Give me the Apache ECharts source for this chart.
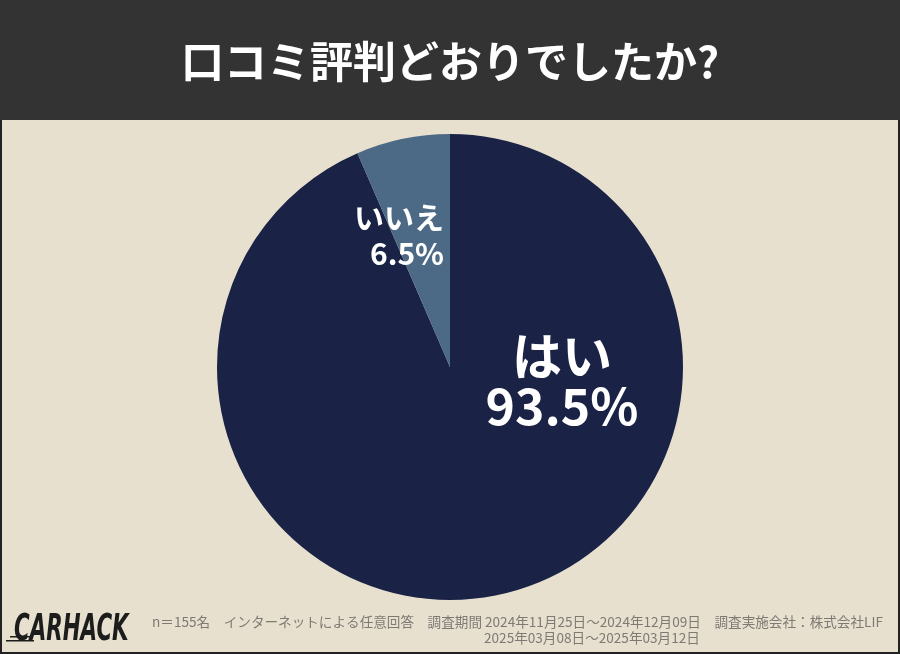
<!DOCTYPE html>
<html>
<head>
<meta charset="utf-8">
<script src="https://cdn.jsdelivr.net/npm/echarts@6/dist/echarts.min.js"></script>
<style>
html,body{margin:0;padding:0;background:#e8e0cf;}
#chart{width:900px;height:654px;}
</style>
</head>
<body>
<div id="chart"></div>
<script>
var titleText = '口コミ評判どおりでしたか?';
var categories = ['はい', 'いいえ'];
var values = [93.5, 6.5];
var sliceColors = ['#1a2245', '#4c6985'];
var noteLine1 = 'n＝155名　インターネットによる任意回答　調査期間 2024年11月25日～2024年12月09日　調査実施会社：株式会社LIF';
var noteLine2 = '2025年03月08日～2025年03月12日';

var font = '"Noto Sans CJK JP", "Noto Sans", sans-serif';

var dom = document.getElementById('chart');
var myChart = echarts.init(dom);

var pieData = categories.map(function (name, i) {
    return {
        name: name,
        value: values[i],
        itemStyle: { color: sliceColors[i] },
        label: i === 0
            ? { fontSize: 50, lineHeight: 50, align: 'center' }
            : { fontSize: 30, lineHeight: 36, align: 'right' }
    };
});

// label spots
var labelSpots = [
    { x: 562, y: 381, align: 'center' },
    { x: 444, y: 236, align: 'right' }
];

var option = {
    animation: false,
    backgroundColor: '#e8e0cf',
    textStyle: { fontFamily: font },
    graphic: [
        { type: 'rect', shape: { x: 0, y: 0, width: 900, height: 120 }, style: { fill: '#333333' }, silent: true },
        { type: 'rect', shape: { x: 0, y: 120, width: 2, height: 534 }, style: { fill: '#222' }, silent: true },
        { type: 'rect', shape: { x: 898, y: 120, width: 2, height: 534 }, style: { fill: '#222' }, silent: true },
        { type: 'rect', shape: { x: 0, y: 652, width: 900, height: 2 }, style: { fill: '#222' }, silent: true },
        {
            type: 'text', x: 450, y: 62,
            style: { text: titleText, fill: '#fff', font: 'bold 43px ' + font, textAlign: 'center', textVerticalAlign: 'middle' }
        },
        {
            type: 'text', x: 152, y: 622,
            style: { text: noteLine1, fill: '#7d7a74', font: '13.6px ' + font, textAlign: 'left', textVerticalAlign: 'middle' }
        },
        {
            type: 'text', x: 484, y: 638,
            style: { text: noteLine2, fill: '#7d7a74', font: '13.6px ' + font, textAlign: 'left', textVerticalAlign: 'middle' }
        },
        // logo
        {
            type: 'text', x: 14, y: 630, scaleX: 0.72, scaleY: 1.12, originX: 0, originY: 0,
            style: { text: 'CARHACK', fill: '#1c1c1c', font: 'italic bold 33px "DejaVu Sans Condensed", sans-serif', textAlign: 'left', textVerticalAlign: 'middle' }
        },
        { type: 'rect', shape: { x: 10, y: 636, width: 20, height: 1.5 }, style: { fill: '#1c1c1c' }, silent: true },
        { type: 'rect', shape: { x: 6, y: 640, width: 28, height: 1.5 }, style: { fill: '#1c1c1c' }, silent: true }
    ],
    series: [
        {
            type: 'pie',
            center: [450, 367],
            radius: 233,
            startAngle: 90,
            clockwise: true,
            silent: true,
            itemStyle: { borderWidth: 0 },
            label: {
                show: true,
                position: 'inside',
                color: '#fff',
                fontWeight: 'bold',
                fontFamily: font,
                formatter: '{b}\n{c}%'
            },
            labelLine: { show: false },
            labelLayout: function (params) {
                var s = labelSpots[params.dataIndex];
                return { x: s.x, y: s.y, align: s.align, verticalAlign: 'middle' };
            },
            data: pieData
        }
    ]
};

if (option && typeof option === 'object') {
    myChart.setOption(option, true);
}
</script>
</body>
</html>
